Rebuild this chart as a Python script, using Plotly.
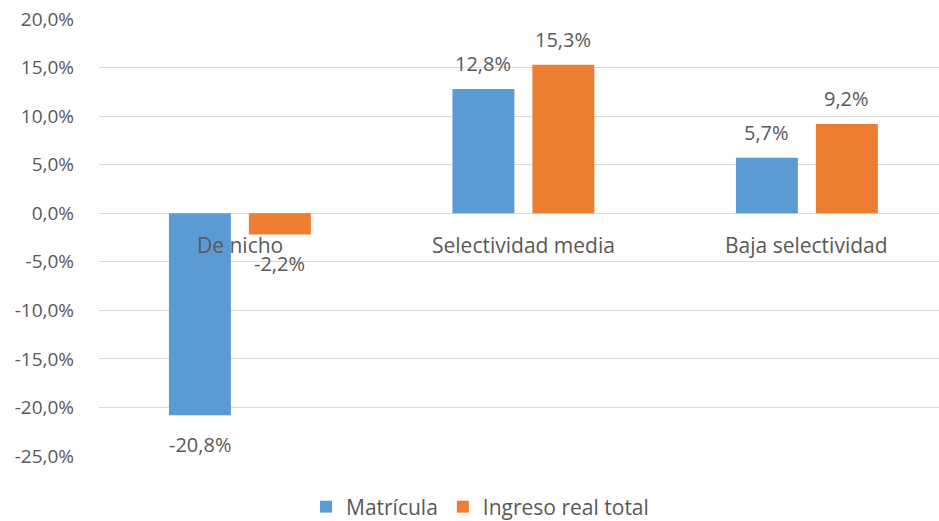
import plotly.graph_objects as go

# Categories and series values (percent change)
categorias = ["De nicho", "Selectividad media", "Baja selectividad"]
matricula = [-20.8, 12.8, 5.7]
ingreso_real_total = [-2.2, 15.3, 9.2]
series_nombres = ["Matrícula", "Ingreso real total"]
colores = ["#5B9BD5", "#ED7D31"]
tick_vals = [20, 15, 10, 5, 0, -5, -10, -15, -20, -25]

FONT = "Open Sans"
GRIS = "#595959"


def fmt(v):
    return f"{v:.1f}".replace(".", ",") + "%"


fig = go.Figure()
for nombre, valores, color in zip(series_nombres, [matricula, ingreso_real_total], colores):
    fig.add_trace(go.Bar(
        x=categorias, y=valores, name=nombre,
        marker=dict(color=color, line=dict(width=0)),
    ))

annotations = []
# Data labels above positive bars, below negative bars
for valores, dx in [(matricula, -40), (ingreso_real_total, 40)]:
    for cat, v in zip(categorias, valores):
        annotations.append(dict(
            x=cat, y=v, xref="x", yref="y", text=fmt(v), showarrow=False,
            xshift=dx, yshift=25 if v >= 0 else -29, yanchor="middle",
            font=dict(family=FONT, size=20, color=GRIS),
        ))
# Category labels sit just below the zero line
for cat in categorias:
    annotations.append(dict(
        x=cat, y=0, xref="x", yref="y", text=cat, showarrow=False,
        yshift=-32, yanchor="middle",
        font=dict(family=FONT, size=21, color=GRIS),
    ))

fig.update_layout(
    width=939, height=521,
    margin=dict(l=99, r=0, t=19, b=65, autoexpand=False),
    plot_bgcolor="white", paper_bgcolor="white",
    barmode="group", bargap=0.436, bargroupgap=0.225,
    annotations=annotations,
    showlegend=True,
    legend=dict(
        orientation="h", xref="container", yref="container",
        x=306 / 939, xanchor="left",
        y=1 - 507 / 521, yanchor="middle",
        font=dict(family=FONT, size=21, color=GRIS),
        itemwidth=30, traceorder="normal",
    ),
    xaxis=dict(
        range=[-0.497, 2.466], showticklabels=False, showgrid=False,
        zeroline=False, showline=False, ticks="",
    ),
    yaxis=dict(
        range=[-25, 20], tickvals=tick_vals,
        ticktext=[fmt(v) for v in tick_vals],
        showgrid=True, gridcolor="#D9D9D9", gridwidth=1,
        zeroline=True, zerolinecolor="#D9D9D9", zerolinewidth=1,
        showline=False, ticks="", ticklabelstandoff=24,
        tickfont=dict(family=FONT, size=19, color=GRIS),
    ),
)

fig.write_html("out.html")
